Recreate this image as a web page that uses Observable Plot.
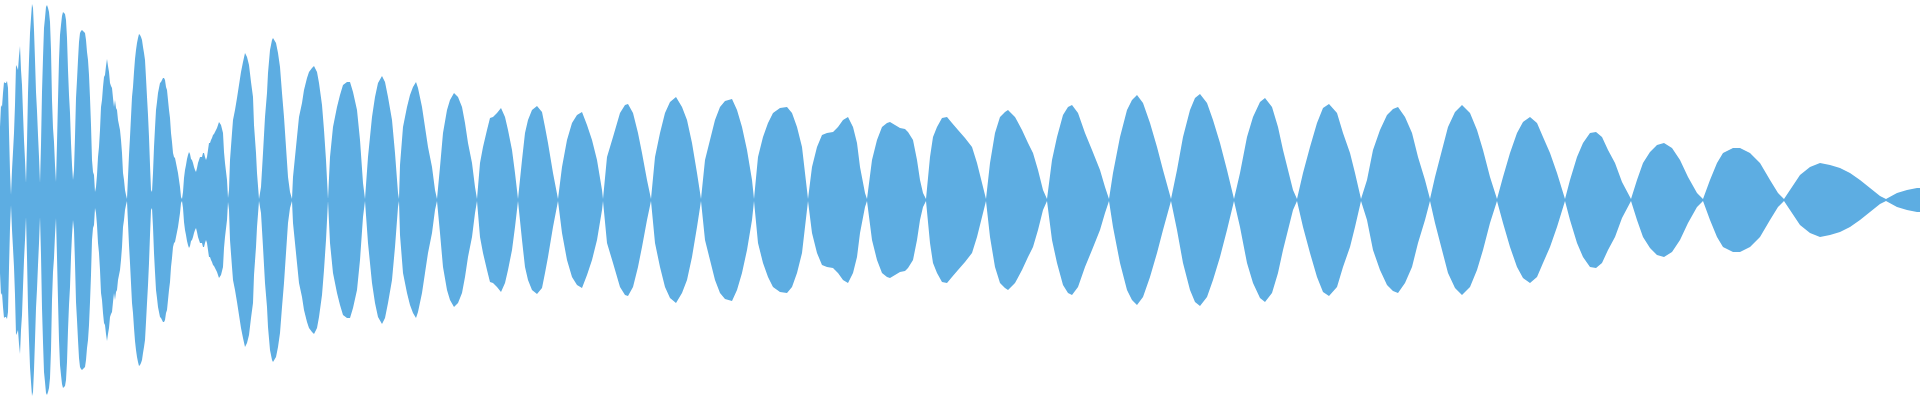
<!DOCTYPE html>
<html>
<head>
<meta charset="utf-8">
<script src="https://cdn.jsdelivr.net/npm/d3@7"></script>
<script src="https://cdn.jsdelivr.net/npm/@observablehq/plot@0.6"></script>
<style>
  html, body { margin: 0; padding: 0; background: #ffffff; }
  #chart svg { display: block; }
</style>
</head>
<body>
<div id="chart"></div>
<script>
// Sample position (x) of each envelope reading
const t = [
  0,1,2,3,4,5,6,7,8,9,10,11,
  12,13,14,15,16,17,18,19,20,21,22,23,24,25,26,
  27,28,29,30,31,32,33,34,35,36,37,38,39,40,
  41,42,43,44,45,46,47,48,49,50,51,52,53,54,55,56,
  57,58,59,60,61,62,63,64,65,66,67,68,69,70,71,72,73,
  74,75,76,77,78,79,80,81,82,83,84,85,86,87,88,89,90,91,92,93,94,95,
  96,97,98,99,100,101,102,103,104,105,106,107,108,109,110,111,112,113,114,115,116,117,118,119,120,121,122,123,124,125,126,127,
  128,129,130,131,132,133,134,135,136,137,138,139,140,141,142,143,144,145,146,147,148,149,150,151,152,
  153,154,155,156,157,158,159,160,161,162,163,164,165,166,167,168,169,170,171,172,173,174,175,176,177,178,179,180,181,182,
  183,184,185,186,187,188,189,190,191,192,193,194,195,196,197,198,199,200,201,202,203,204,205,206,207,208,209,210,211,212,213,214,215,217,219,221,223,224,225,227,228,
  229,230,232,233,235,237,239,241,243,245,247,249,251,253,254,256,257,259,
  261,263,265,267,268,270,272,273,276,278,280,282,284,286,288,290,292,
  293,295,297,299,302,304,307,309,312,314,317,319,322,324,326,328,
  330,333,337,340,343,347,350,353,357,360,363,365,
  368,372,375,378,382,385,388,392,395,398,399,
  400,403,407,410,413,416,418,422,425,428,432,435,437,
  440,443,447,450,454,458,462,465,468,472,475,477,
  480,483,487,490,493,497,501,505,508,512,515,518,
  522,525,528,532,537,542,545,548,553,558,
  562,567,572,577,582,587,592,597,602,603,
  607,613,620,625,628,633,638,642,647,651,
  655,660,665,670,676,682,687,692,697,701,
  705,710,715,720,725,732,737,742,747,752,754,
  758,763,768,773,780,787,792,797,802,805,808,
  812,817,822,827,833,838,843,848,853,857,860,865,867,
  872,877,882,887,890,895,900,905,908,913,917,920,923,926,
  930,933,937,942,947,952,958,965,972,977,982,986,
  990,995,1000,1005,1008,1015,1022,1028,1033,1038,1043,1047,
  1052,1057,1063,1068,1072,1078,1085,1092,1100,1105,1109,
  1113,1120,1127,1132,1137,1143,1150,1157,1163,1171,
  1177,1183,1190,1195,1200,1207,1213,1220,1227,1234,
  1240,1247,1253,1260,1265,1272,1278,1283,1288,1293,1297,
  1303,1310,1317,1323,1329,1337,1343,1350,1355,1361,
  1367,1373,1380,1387,1393,1398,1405,1412,1418,1425,1430,
  1435,1442,1448,1455,1462,1470,1477,1483,1490,1497,
  1503,1510,1517,1523,1530,1537,1543,1550,1557,1565,
  1570,1577,1583,1590,1596,1602,1608,1615,1622,1631,
  1637,1643,1650,1657,1664,1672,1680,1688,1697,1703,
  1710,1717,1723,1733,1740,1750,1760,1770,1778,1784,
  1790,1800,1810,1820,1830,1840,1850,1860,1870,1880,1886,
  1897,1907,1917,1920
];

// Envelope level at each sample, percent of full scale (mirrored above and below zero)
const level = [
  36.5,47.5,46.5,53.5,59,58.5,58.5,59.5,56,34,14,2.5,
  15,24,33.5,47.5,67.5,66.5,65,72,77,65,57.5,43.5,30,20,8.5,
  28.5,53.5,70,83.5,91,98,96,85,70,54,44.5,32.5,21.5,8.5,
  27.5,54,71,86,91,96.5,97.5,96,94,89,75,50,36,29,17.5,9,
  28.5,50,70,82.5,87.5,92,94,93.5,93,90,81,65,52.5,43.5,28.5,17.5,10,
  15,31.5,51,60,70,79,83.5,84.5,85,84.5,84,83.5,80,74,70,62.5,51,37.5,20,14,12.5,4,
  6.5,12.5,21.5,26.5,35,46.5,50,56.5,61.5,62.5,67,70.5,67,64,58.5,57,56,51,46.5,50,46,45,40,37.5,35,30,23.5,13.5,10,5,2.5,0.5,
  11.5,22.5,31.5,41.5,51.5,56.5,64,70.5,75,78.5,81,83,82.5,81.5,80,76.5,73.5,70,61,51.5,42.5,31.5,17.5,5,4,
  13.5,26.5,36,45,49,53.5,56,58.5,59,60,61,61,60,56.5,55,50,45,41,33.5,29,23.5,21.5,21,18.5,16,13.5,10,6.5,1.5,0.5,
  4,11,15,17.5,20.5,22.5,24,23,20.5,20,18.5,16.5,15,14,16,18.5,20,21.5,21.5,21.5,23.5,23.5,21.5,20,21.5,25,28.5,28.5,30,31,32.5,33,34,36,39,37.5,33.5,24,18.5,10,1,
  5,20,33.5,40,45,51,57.5,64,69,73.5,71.5,67.5,59,51.5,37.5,23.5,13.5,0.5,
  6.5,23.5,41.5,53.5,63.5,75,80,81,78.5,73.5,66.5,53.5,41.5,26.5,11.5,4,0.5,
  11.5,21.5,31.5,41.5,48.5,55,61,64,66,67,64,58.5,47.5,35,20,0.5,
  21.5,36.5,46.5,52.5,57.5,59,59,54,45,30,8.5,0.5,
  21.5,41.5,51.5,58.5,62,59,51.5,40,23.5,3.5,0.5,
  17.5,36.5,46.5,52.5,56.5,59,56,46.5,36.5,26.5,16.5,5,0.5,
  16.5,33.5,45,50,53.5,51.5,46.5,38.5,28.5,18.5,6.5,0.5,
  18.5,26.5,35,41,41.5,43.5,46,41.5,35,25,13.5,0.5,
  20,33.5,40,45,47,44,36.5,28.5,13.5,0.5,
  16.5,30,38.5,42.5,44,37.5,30,20,5,0.5,
  21.5,31.5,43.5,47.5,48,43.5,33.5,23.5,10,0.5,
  21.5,33.5,43.5,49,51.5,46.5,40,28.5,13.5,0.5,
  20,30,40,46.5,49.5,50.5,45,36.5,25,10,0.5,
  21.5,31.5,38.5,43.5,46,46.5,43.5,36.5,26.5,13.5,0.5,
  16.5,26.5,32.5,33.5,34,36.5,40,41.5,36.5,28.5,16.5,3.5,0.5,
  20,30,36.5,38.5,39,37.5,36,35.5,34,30,20,10,3.5,0.5,
  21.5,31.5,36.5,41,41.5,38.5,35,31,26.5,18.5,8.5,0.5,
  18.5,33.5,41.5,44,45,41.5,35,28.5,23.5,15,5,0.5,
  20,31.5,42.5,46.5,47.5,43.5,33.5,25,15,6.5,0.5,
  13.5,31.5,45,50,52.5,48.5,38.5,26.5,15,0.5,
  15,31.5,45,51,53,48.5,40,28.5,15,0.5,
  13.5,31.5,41.5,49,51,46.5,36.5,25,15,5,0.5,
  13.5,26.5,38.5,46,48,43.5,33.5,23.5,13.5,0.5,
  10,25,35,42.5,45.5,46.5,41.5,33.5,21.5,10,0.5,
  11.5,25,36.5,44,47.5,43.5,35,25,11.5,0.5,
  11.5,23.5,33.5,39,41.5,38.5,31.5,23.5,13.5,0.5,
  10,21.5,28.5,33.5,34,31.5,25,18.5,9,0.5,
  10,18.5,24,27.5,28.5,26,20,11.5,3.5,0.5,
  10,18.5,23.5,26,26,23.5,18.5,10,3.5,0.5,
  5,12.5,16.5,18.5,17.5,16,13.5,10,6,2,0.5,
  3.5,5,6,6
];

const samples = t.map((x, i) => ({t: x, level: level[i]}));

const chart = Plot.plot({
  width: 1920,
  height: 400,
  margin: 0,
  x: {domain: [0, 1920], axis: null},
  y: {domain: [-100, 100], axis: null},
  marks: [
    Plot.area(samples, {
      x1: "t",
      y1: d => -d.level,
      y2: d => d.level,
      fill: "#5dade2",
      curve: "linear"
    })
  ]
});
document.getElementById("chart").appendChild(chart);
</script>
</body>
</html>
